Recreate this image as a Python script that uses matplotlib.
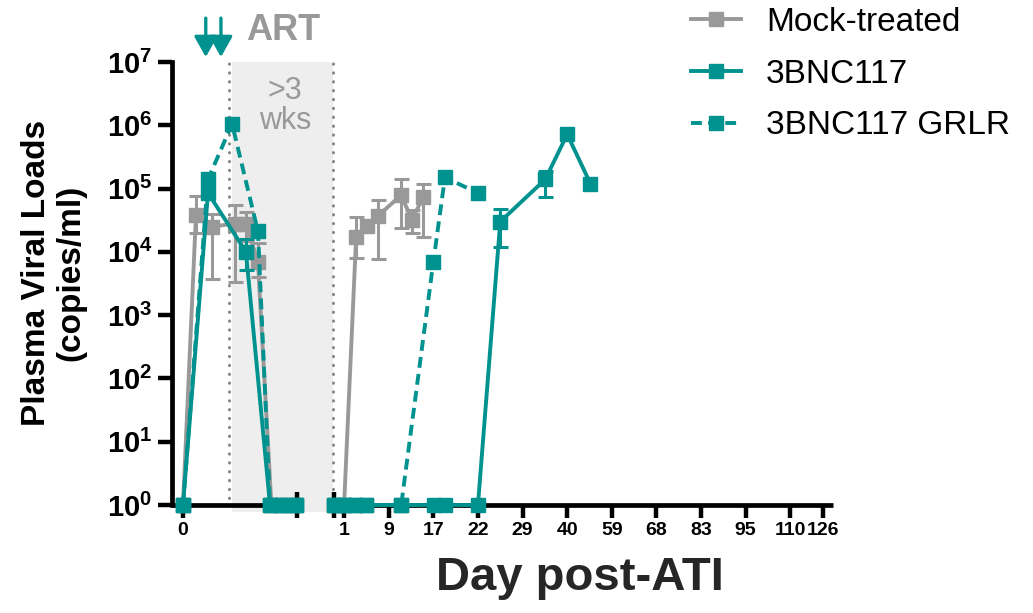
import numpy as np
import matplotlib
matplotlib.use("Agg")
import matplotlib.pyplot as plt

plt.rcParams['font.family'] = ['Liberation Sans', 'DejaVu Sans']
plt.rcParams['mathtext.fontset'] = 'custom'
plt.rcParams['mathtext.rm'] = 'Liberation Sans'
plt.rcParams['mathtext.bf'] = 'Liberation Sans:bold'

TEAL = '#00928F'
GRAY = '#999999'

# x = position along the broken day axis (left block = pre-ART, right block = post-ART)
tick_pos = [0, 3.61, 4.61, 5.61, 6.61, 7.61, 8.61, 9.61, 10.61, 11.61, 12.61, 13.61, 14.35]
tick_labels = ['0', '1', '9', '17', '22', '29', '40', '59', '68', '83', '95', '110', '126']
break_ticks = [2.56, 3.39]
art_start, art_end = 1.03, 3.36
arrow_x = [0.51, 0.85]

mock_left_x = [0, 0.29, 0.65, 1.17, 1.41, 1.68, 1.98, 2.25, 2.53]
mock_left_y = [1, 3.8e4, 2.5e4, 2.8e4, 2.8e4, 6.9e3, 1, 1, 1]
mock_left_lo = [None, 2.0e4, 3.7e3, 3.3e3, 1.5e4, 4.0e3, None, None, None]
mock_left_hi = [None, 7.6e4, 4.0e4, 5.5e4, 4.2e4, 1.4e4, None, None, None]
mock_right_x = [3.39, 3.61, 3.88, 4.13, 4.37, 4.89, 5.13, 5.38]
mock_right_y = [1, 1, 1.7e4, 2.6e4, 3.7e4, 7.9e4, 3.2e4, 7.3e4]
mock_right_lo = [None, None, 8.0e3, None, 7.7e3, 2.4e4, 2.0e4, 1.7e4]
mock_right_hi = [None, None, 3.5e4, None, 6.6e4, 1.4e5, 4.5e4, 1.2e5]

bnc_left_x = [0, 0.56, 1.41, 1.95, 2.2, 2.35, 2.53]
bnc_left_y = [1, 8.5e4, 1.0e4, 1, 1, 1, 1]
bnc_left_lo = [None, None, 5.1e3, None, None, None, None]
bnc_left_hi = [None, None, 1.6e4, None, None, None, None]
bnc_right_x = [3.39, 3.61, 3.85, 4.10, 4.89, 5.63, 5.87, 6.61, 7.11, 8.12, 8.61, 9.13]
bnc_right_y = [1, 1, 1, 1, 1, 1, 1, 1, 3.0e4, 1.4e5, 7.2e5, 1.2e5]
bnc_right_lo = [None] * 8 + [1.2e4, 7.4e4, None, None]
bnc_right_hi = [None] * 8 + [4.8e4, 1.9e5, None, None]

grlr_left_x = [0, 0.56, 1.10, 1.68, 1.95, 2.2, 2.53]
grlr_left_y = [1, 1.4e5, 1.05e6, 2.1e4, 1, 1, 1]
grlr_right_x = [3.39, 3.61, 3.85, 4.10, 4.89, 5.61, 5.87, 6.61]
grlr_right_y = [1, 1, 1, 1, 1, 6.9e3, 1.5e5, 8.5e4]


def draw_series(ax, x, y, lo, hi, color, ls, label, z):
    line, = ax.plot(x, y, color=color, ls=ls, lw=2.8, marker='s', ms=9.5,
                    mec=color, mfc=color, clip_on=False, zorder=z, label=label)
    if lo is not None:
        idx = [i for i in range(len(x)) if lo[i] is not None]
        if idx:
            ex = [x[i] for i in idx]
            ey = [y[i] for i in idx]
            el = [y[i] - lo[i] for i in idx]
            eh = [hi[i] - y[i] for i in idx]
            ax.errorbar(ex, ey, yerr=[el, eh], fmt='none', ecolor=color,
                        elinewidth=2.2, capsize=5.4, capthick=2.2, zorder=z)
    return line


fig = plt.figure(figsize=(10.33, 6.13), dpi=100)
ax = fig.add_axes([0.1665, 0.1762, 0.640, 0.7227])

ax.set_yscale('log')
ax.set_ylim(1, 1e7)
ax.set_xlim(-0.247, 14.57)

# ART window
ax.axvspan(art_start + 0.07, art_end, ymin=-0.016, ymax=1, color='#EEEEEE',
           zorder=0, clip_on=False, lw=0)
for xv in (art_start, art_end):
    ax.axvline(xv, ymin=0.015, ymax=1, color='#888888', lw=2.2,
               ls=(0, (0.1, 2.8)), dash_capstyle='round', zorder=1)

dash = (0, (2.8, 1.6))
h_mock = draw_series(ax, mock_left_x, mock_left_y, mock_left_lo, mock_left_hi, GRAY, '-', 'Mock-treated', 2)
draw_series(ax, mock_right_x, mock_right_y, mock_right_lo, mock_right_hi, GRAY, '-', None, 2)
h_grlr = draw_series(ax, grlr_left_x, grlr_left_y, None, None, TEAL, dash, '3BNC117 GRLR', 3)
draw_series(ax, grlr_right_x, grlr_right_y, None, None, TEAL, dash, None, 3)
h_bnc = draw_series(ax, bnc_left_x, bnc_left_y, bnc_left_lo, bnc_left_hi, TEAL, '-', '3BNC117', 4)
draw_series(ax, bnc_right_x, bnc_right_y, bnc_right_lo, bnc_right_hi, TEAL, '-', None, 4)

# broken x axis
for spine in ('top', 'right', 'bottom'):
    ax.spines[spine].set_visible(False)
ax.spines['left'].set_linewidth(3.4)
trans = ax.get_xaxis_transform()
ax.plot([-0.247, break_ticks[0]], [0, 0], color='black', lw=3.4, transform=trans,
        clip_on=False, solid_capstyle='butt', zorder=1.5)
ax.plot([break_ticks[1], 14.57], [0, 0], color='black', lw=3.4, transform=trans,
        clip_on=False, solid_capstyle='butt', zorder=1.5)

ax.set_xticks(tick_pos)
ax.set_xticklabels(tick_labels, fontsize=14, fontweight='bold')
ax.set_xticks(break_ticks, minor=True)
ax.tick_params(axis='x', which='major', direction='out', length=9, width=3.2, pad=3)
ax.tick_params(axis='x', which='minor', direction='inout', length=19, width=3.2)

yt = [10.0 ** k for k in range(8)]
ax.set_yticks(yt)
ax.set_yticklabels([r'$\mathbf{10^{%d}}$' % k for k in range(8)], fontsize=21)
ax.yaxis.set_minor_locator(matplotlib.ticker.NullLocator())
ax.tick_params(axis='y', direction='out', length=10, width=3.2, pad=4)

fig.text(0.052, 0.555, 'Plasma Viral Loads\n(copies/ml)', rotation=90, ha='center',
         va='center', fontsize=24, fontweight='bold', multialignment='center',
         linespacing=1.15)
fig.text(0.561, 0.057, 'Day post-ATI', ha='center', va='center', fontsize=34,
         fontweight='bold', color='#262626')

# antibody injections and ART label
for xa in arrow_x:
    ax.annotate('', xy=(xa, 1.011), xycoords=('data', 'axes fraction'),
                xytext=(xa, 1.099), textcoords=('data', 'axes fraction'),
                arrowprops=dict(arrowstyle='-|>,head_length=0.5,head_width=0.28',
                                color=TEAL, lw=2.4, shrinkA=0, shrinkB=0,
                                mutation_scale=25))
ax.text(2.25, 1.07, 'ART', transform=trans, ha='center', va='center',
        fontsize=26, fontweight='bold', color=GRAY)
ax.text(2.29, 0.90, '>3\nwks', transform=trans, ha='center', va='center',
        fontsize=22, color=GRAY, linespacing=1.0)

fig.legend(handles=[h_mock, h_bnc, h_grlr], loc='upper left',
           bbox_to_anchor=(691 / 1033, 1 - 7 / 613), frameon=False, fontsize=24,
           borderpad=0, borderaxespad=0, handlelength=1.5, handletextpad=0.75,
           labelspacing=0.62)

fig.savefig('out.png', dpi=100)
